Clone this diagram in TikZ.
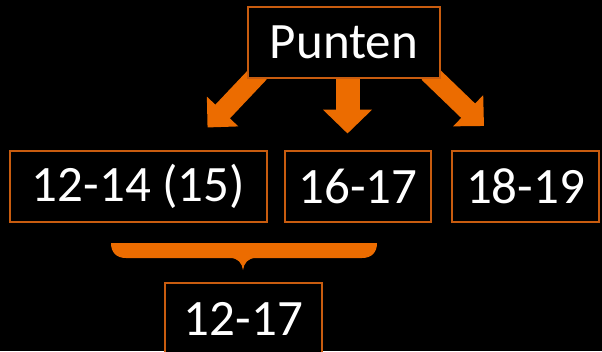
\documentclass[tikz,border=0pt]{standalone}
\usepackage{fontspec}
\setmainfont{Carlito}
\usetikzlibrary{arrows.meta,backgrounds}
\definecolor{arroworange}{RGB}{236,108,0}
\definecolor{boxorange}{RGB}{200,92,15}
\tikzset{
  numbox/.style={draw=boxorange, line width=1.2pt, fill=black, text=white,
    inner sep=0pt, minimum height=71pt,
    font=\fontsize{51}{60}\selectfont},
  diagarrow/.style={draw=arroworange, line width=20pt, line cap=butt,
    -{Triangle[width=42pt,length=22pt]}},
  downarrow/.style={draw=arroworange, line width=24pt, line cap=butt,
    -{Triangle[width=48pt,length=24pt]}},
}
\begin{document}
\begin{tikzpicture}[x=1pt,y=-1pt]
\useasboundingbox (0,0) rectangle (602,351);
\node[numbox, minimum width=192pt] (P) at (344,42.5) {Punten};
\node[numbox, minimum width=257pt] (A) at (138.5,186.5) {12-14 (15)};
\node[numbox, minimum width=146pt] (B) at (358,186.5) {16-17};
\node[numbox, minimum width=147pt] (C) at (525.5,186.5) {18-19};
\node[numbox, minimum width=157pt] (D) at (243.5,318.5) {12-17};
\coordinate (lt) at (207.5,127.5);
\coordinate (mt) at (347.5,133.5);
\coordinate (rt) at (484,126);
\begin{pgfonlayer}{background}
\fill[black] (0,0) rectangle (602,351);
\draw[diagarrow] ([shift={(12,-6)}]P.south west) -- (lt);
\draw[downarrow] (P.south -| mt) -- (mt);
\draw[diagarrow] ([shift={(-12,-6)}]P.south east) -- (rt);
\end{pgfonlayer}
\fill[arroworange] (111,243) -- (377,243)
  .. controls (377,252) and (372,258) .. (362,258) -- (256,258)
  .. controls (248,258) and (244,263) .. (243,270)
  .. controls (242,263) and (238,258) .. (230,258) -- (126,258)
  .. controls (116,258) and (111,252) .. (111,243) -- cycle;
\end{tikzpicture}
\end{document}
